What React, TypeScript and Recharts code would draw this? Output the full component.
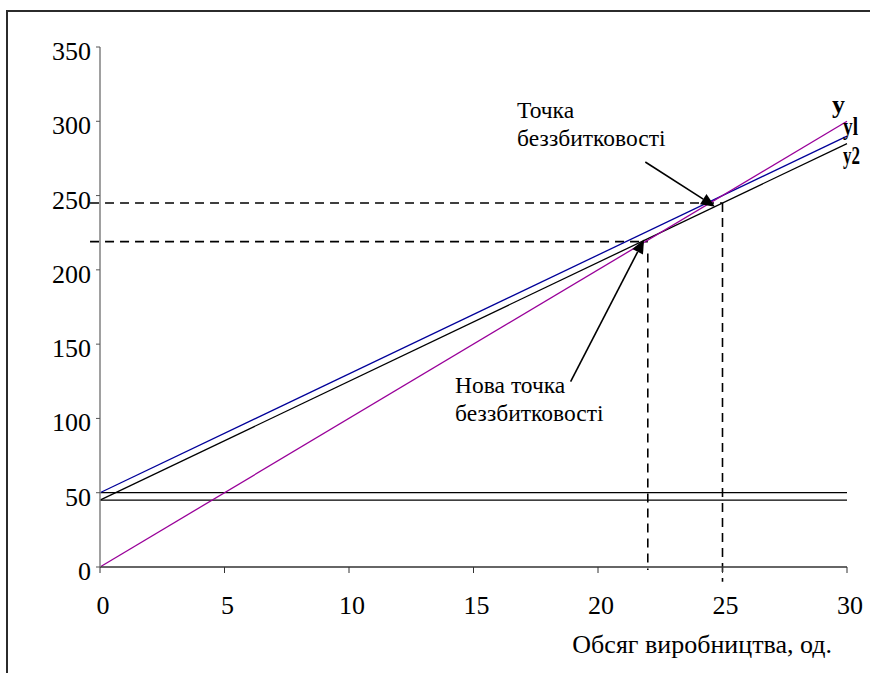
import { LineChart, Line, XAxis, YAxis, ReferenceLine, ReferenceDot } from 'recharts';

// обсяг виробництва (од.) — крайні точки прямих
const xValues = [0, 30];
// y — виручка
const revenue = [0, 300];
// y1 — сукупні витрати
const costs1 = [50, 290];
// y2 — сукупні витрати після зміни
const costs2 = [45, 285];
// постійні витрати
const fixed1 = [50, 50];
const fixed2 = [45, 45];

const xTicks = [0, 5, 10, 15, 20, 25, 30];
const yTicks = [0, 50, 100, 150, 200, 250, 300, 350];

// точки беззбитковості [x, y]
const breakEven = [25, 245];
const newBreakEven = [22, 219];

// стрілки: [x1, y1, x2, y2]
const arrowOld = [21.9, 272.6, 24.7, 242.5];
const arrowNew = [18.9, 124.7, 21.85, 220.5];

const SERIF = '"Liberation Serif", "Times New Roman", serif';
const tickTxt = { fontFamily: SERIF, fontSize: 26 };
const noteTxt = { fontFamily: SERIF, fontSize: 23.5 };

const data = xValues.map((x, i) => ({
  x,
  y: revenue[i],
  y1: costs1[i],
  y2: costs2[i],
  f1: fixed1[i],
  f2: fixed2[i],
}));

const XTick = (p: any) => (
  <text x={p.x + 3} y={p.y} dy={18} textAnchor="middle" fill="#000" style={tickTxt}>
    {p.payload.value}
  </text>
);

const YTick = (p: any) => (
  <text x={p.x} y={p.y} dy={13} textAnchor="end" fill="#000" style={tickTxt}>
    {p.payload.value}
  </text>
);

const Arrow = (p: any) => {
  const { x1, y1, x2, y2 } = p;
  const a = Math.atan2(y2 - y1, x2 - x1);
  const len = 14;
  const hw = 6;
  const bx = x2 - len * Math.cos(a);
  const by = y2 - len * Math.sin(a);
  const nx = -Math.sin(a);
  const ny = Math.cos(a);
  return (
    <g>
      <line x1={x1} y1={y1} x2={bx} y2={by} stroke="#000" strokeWidth={1.6} />
      <polygon
        points={`${x2},${y2} ${bx + nx * hw},${by + ny * hw} ${bx - nx * hw},${by - ny * hw}`}
        fill="#000"
      />
    </g>
  );
};

// підпис з кількох рядків, лівий край у точці
const note = (lines: string[]) => (p: any) => (
  <text x={p.cx} y={p.cy} fill="#000" style={noteTxt}>
    {lines.map((t, i) => (
      <tspan key={i} x={p.cx} dy={i === 0 ? 0 : 28}>{t}</tspan>
    ))}
  </text>
);

const seriesLabel = (t: string, w: number) => (p: any) => (
  <text
    x={p.cx}
    y={p.cy}
    textLength={w}
    lengthAdjust="spacingAndGlyphs"
    fill="#000"
    style={{ fontFamily: SERIF, fontSize: 25, fontWeight: 'bold' }}
  >
    {t}
  </text>
);

const dash = { stroke: '#000', strokeWidth: 1.6, strokeDasharray: '9 6' };

export default function App() {
  return (
    <div style={{ position: 'fixed', left: 0, top: 0, width: 870, height: 673, overflow: 'hidden', background: '#fff' }}>
      <div style={{ position: 'absolute', left: 6, top: 10, width: 1000, height: 1000, border: '2px solid #2b2b2b' }} />
      <div style={{ position: 'absolute', left: 0, top: 0 }}>
        <LineChart
          width={870}
          height={673}
          data={data}
          margin={{ top: 47, right: 23, bottom: 6, left: 40 }}
          style={{ fontFamily: SERIF }}
        >
          <XAxis
            type="number"
            dataKey="x"
            domain={[0, 30]}
            ticks={xTicks}
            height={100}
            tickSize={6}
            tickMargin={23}
            axisLine={{ stroke: '#333', strokeWidth: 1.5 }}
            tickLine={{ stroke: '#333' }}
            tick={XTick}
            label={{
              content: (p: any) => (
                <text
                  x={p.viewBox.x + p.viewBox.width - 15}
                  y={p.viewBox.y + 86}
                  textAnchor="end"
                  fill="#000"
                  style={tickTxt}
                >
                  Обсяг виробництва, од.
                </text>
              ),
            }}
          />
          <YAxis
            type="number"
            domain={[0, 350]}
            ticks={yTicks}
            width={60}
            tickSize={4}
            tickMargin={5}
            axisLine={{ stroke: '#808080', strokeWidth: 1.5 }}
            tickLine={{ stroke: '#555' }}
            tick={YTick}
          />

          <ReferenceLine segment={[{ x: -0.4, y: breakEven[1] }, { x: breakEven[0], y: breakEven[1] }]} ifOverflow="visible" {...dash} />
          <ReferenceLine segment={[{ x: breakEven[0], y: breakEven[1] }, { x: breakEven[0], y: -10 }]} ifOverflow="visible" {...dash} />
          <ReferenceLine segment={[{ x: -0.4, y: newBreakEven[1] }, { x: newBreakEven[0], y: newBreakEven[1] }]} ifOverflow="visible" {...dash} />
          <ReferenceLine segment={[{ x: newBreakEven[0], y: newBreakEven[1] - 8 }, { x: newBreakEven[0], y: -2 }]} ifOverflow="visible" {...dash} />

          <Line dataKey="f1" stroke="#000" strokeWidth={1.3} dot={false} isAnimationActive={false} />
          <Line dataKey="f2" stroke="#000" strokeWidth={1.3} dot={false} isAnimationActive={false} />
          <Line dataKey="y2" stroke="#000" strokeWidth={1.3} dot={false} isAnimationActive={false} />
          <Line dataKey="y1" stroke="#000099" strokeWidth={1.3} dot={false} isAnimationActive={false} />
          <Line dataKey="y" stroke="#990099" strokeWidth={1.3} dot={false} isAnimationActive={false} />

          <ReferenceLine
            segment={[{ x: arrowOld[0], y: arrowOld[1] }, { x: arrowOld[2], y: arrowOld[3] }]}
            ifOverflow="visible"
            shape={Arrow}
          />
          <ReferenceLine
            segment={[{ x: arrowNew[0], y: arrowNew[1] }, { x: arrowNew[2], y: arrowNew[3] }]}
            ifOverflow="visible"
            shape={Arrow}
          />

          <ReferenceDot x={16.75} y={302} r={0} ifOverflow="visible" shape={note(['Точка', 'беззбитковості'])} />
          <ReferenceDot x={14.26} y={117} r={0} ifOverflow="visible" shape={note(['Нова точка', 'беззбитковості'])} />

          <ReferenceDot x={29.4} y={305.6} r={0} ifOverflow="visible" shape={seriesLabel('y', 13)} />
          <ReferenceDot x={29.84} y={290.8} r={0} ifOverflow="visible" shape={seriesLabel('yl', 15)} />
          <ReferenceDot x={29.84} y={271.2} r={0} ifOverflow="visible" shape={seriesLabel('y2', 17)} />
        </LineChart>
      </div>
    </div>
  );
}
